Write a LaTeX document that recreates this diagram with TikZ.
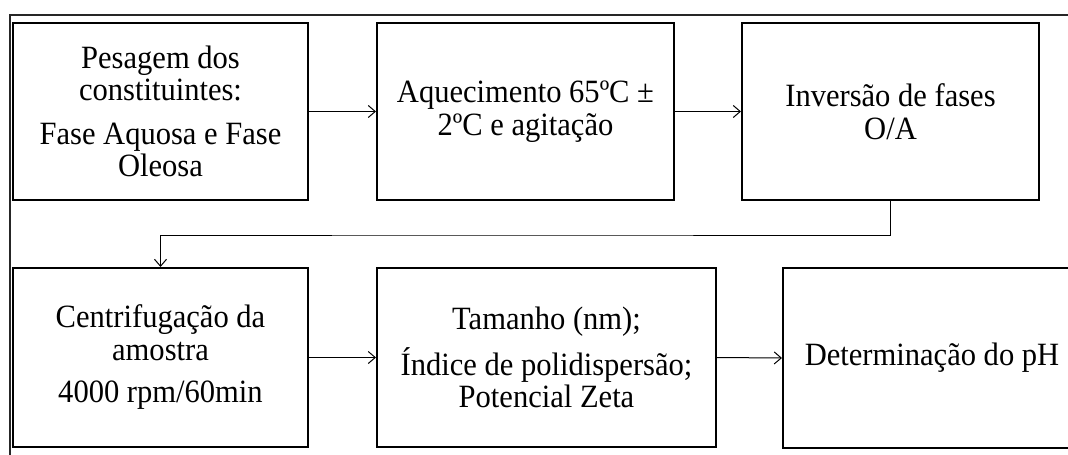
\documentclass[tikz,border=0pt]{standalone}
\usepackage{fontspec}
\setmainfont{Liberation Serif}[FakeStretch=0.94]
\usetikzlibrary{arrows.meta}
\tikzset{
  x=1pt, y=-1pt,
  stepbox/.style={draw=black, line width=2pt, align=center, inner sep=0pt,
    font=\fontsize{32.5}{32.5}\selectfont},
  arr/.style={draw=black, line width=1pt, -{Straight Barb[length=7pt,width=12pt,line width=1pt]}},
  frame/.style={draw=black!85, line width=1.6pt}
}
\begin{document}
\begin{tikzpicture}
\clip (0,0) rectangle (1068,455);
\fill[white] (0,0) rectangle (1068,455);
\draw[frame] (10,455) -- (10,15) -- (1068,15);
\node[stepbox, minimum width=295pt, minimum height=177pt] (b1) at (160.5,111.5)
  {Pesagem dos\\constituintes:\\[11pt]Fase Aquosa e Fase\\Oleosa};
\node[stepbox, minimum width=297pt, minimum height=177pt] (b2) at (525.5,111.5)
  {Aquecimento 65ºC ±\\2ºC e agitação};
\node[stepbox, minimum width=297pt, minimum height=177pt] (b3) at (890.5,111.5)
  {Inversão de fases\\O/A};
\node[stepbox, minimum width=295pt, minimum height=179pt] (b4) at (160.5,357.5)
  {Centrifugação da\\amostra\\[10pt]4000 rpm/60min};
\node[stepbox, minimum width=339pt, minimum height=179pt] (b5) at (546.5,357.5)
  {Tamanho (nm);\\[10pt]Índice de polidispersão;\\Potencial Zeta};
\node[stepbox, minimum width=298pt, minimum height=180pt] (b6) at (932,358)
  {Determinação do pH};
\coordinate (mid) at (500,235);
\draw[arr] (b1.east) -- (b2.west);
\draw[arr] (b2.east) -- (b3.west);
\draw[arr] (b3.south) |- (mid) -| (b4.north);
\draw[arr] (b4.east) -- (b5.west);
\draw[arr] (b5.east) -- (b6.west);
\end{tikzpicture}
\end{document}
